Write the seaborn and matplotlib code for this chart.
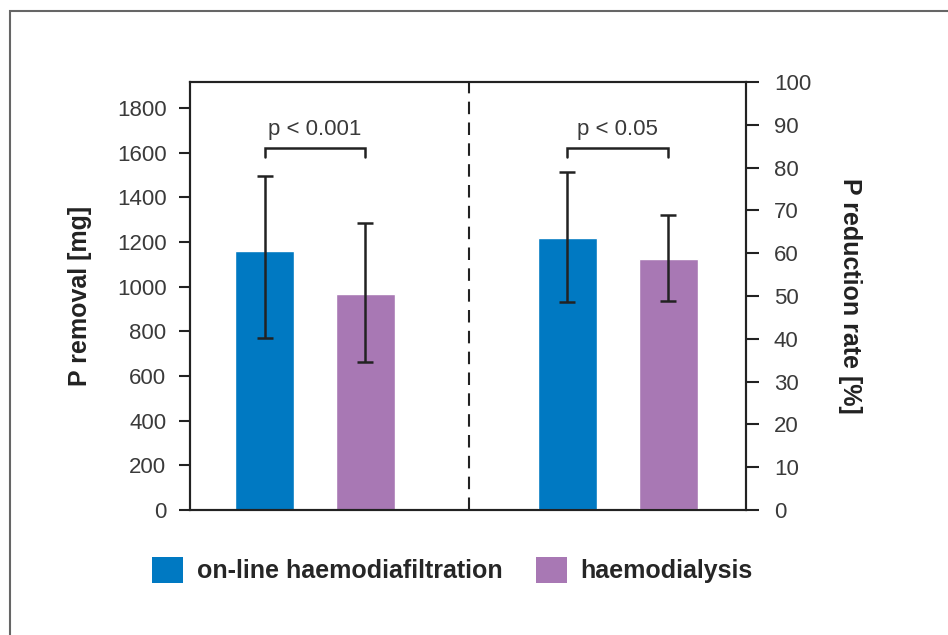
import matplotlib
matplotlib.use("Agg")
import matplotlib.pyplot as plt
import numpy as np
import pandas as pd
import seaborn as sns
from matplotlib.patches import Patch, Rectangle

# values
methods = ["on-line haemodiafiltration", "haemodialysis"]
colors = ["#0079c2", "#a878b4"]

removal_mg = [1161, 967]
removal_err_low = [392, 303]
removal_err_high = [336, 316]

reduction_pct = [63.6, 58.6]
reduction_err_low = [15.1, 9.7]
reduction_err_high = [15.4, 10.3]

groups = ["removal", "reduction"]
p_labels = ["p < 0.001", "p < 0.05"]

sns.set_style("white")
plt.rcParams["font.family"] = ["Liberation Sans", "DejaVu Sans"]

text_color = "#3a3a3a"
line_color = "#222222"

removal_df = pd.DataFrame({"group": "removal", "method": methods, "value": removal_mg})
reduction_df = pd.DataFrame({"group": "reduction", "method": methods, "value": reduction_pct})

fig = plt.figure(figsize=(9.48, 6.35), dpi=100)
ax = fig.add_axes([190 / 948, 1 - 510 / 635, (746 - 190) / 948, (510 - 82) / 635])
ax2 = ax.twinx()

palette = dict(zip(methods, colors))
bar_kw = dict(x="group", y="value", hue="method", order=groups, hue_order=methods,
              palette=palette, width=0.667, gap=0.415, saturation=1, legend=False,
              errorbar=None)
sns.barplot(data=removal_df, ax=ax, **bar_kw)
sns.barplot(data=reduction_df, ax=ax2, **bar_kw)


def bar_centers(axis):
	xs = []
	for container in axis.containers:
		for bar in container:
			if bar.get_height() > 0:
				xs.append(bar.get_x() + bar.get_width() / 2)
	return xs


err_kw = dict(fmt="none", ecolor=line_color, elinewidth=1.8, capsize=5.8, capthick=1.8, zorder=5)
x_left = bar_centers(ax)
x_right = bar_centers(ax2)
ax.errorbar(x_left, removal_mg, yerr=[removal_err_low, removal_err_high], **err_kw)
ax2.errorbar(x_right, reduction_pct, yerr=[reduction_err_low, reduction_err_high], **err_kw)

ax.set_ylim(0, 1916)
ax2.set_ylim(0, 100)
for a in (ax, ax2):
	a.set_xlim(-0.413, 1.424)
	a.set_xlabel("")
	a.set_xticks([])

ax.set_yticks(np.arange(0, 1801, 200))
ax2.set_yticks(np.arange(0, 101, 10))
ax.tick_params(axis="y", left=True, direction="out", length=8, width=1.5, pad=9,
               labelsize=16, labelcolor=text_color, color=line_color)
ax2.tick_params(axis="y", right=True, direction="out", length=9, width=1.5, pad=11,
                labelsize=16, labelcolor=text_color, color=line_color)

for a in (ax, ax2):
	for spine in a.spines.values():
		spine.set_visible(True)
		spine.set_color(line_color)
		spine.set_linewidth(1.5)

ax.set_ylabel("P removal [mg]", fontsize=18, fontweight="bold", color=line_color, labelpad=18)
ax2.set_ylabel("P reduction rate [%]", fontsize=18, fontweight="bold", color=line_color,
               rotation=270, labelpad=37)

# group separator
ax.axvline(0.51, color=line_color, lw=1.5, linestyle=(0, (6, 4)))

# significance brackets
br_top, br_bot = 1620, 1580
for xs, label in zip([x_left, x_right], p_labels):
	ax.plot([xs[0], xs[0], xs[1], xs[1]], [br_bot, br_top, br_top, br_bot],
	        color=line_color, lw=1.8, solid_joinstyle="miter", clip_on=False)
	ax.text((xs[0] + xs[1]) / 2, 1705, label, ha="center", va="center",
	        fontsize=16, color=text_color)

handles = [Patch(facecolor=c, edgecolor="none") for c in colors]
fig.legend(handles, methods, loc="center left", bbox_to_anchor=(152 / 948, 1 - 570 / 635),
           ncol=2, frameon=False, handlelength=1.24, handleheight=1.24,
           handletextpad=0.56, columnspacing=1.32, borderpad=0, borderaxespad=0,
           prop={"weight": "bold", "size": 18})

# outer frame
fig.patches.append(Rectangle((9.5 / 948, -0.1), 1.2, 1.1 - 11 / 635, transform=fig.transFigure,
                             fill=False, edgecolor="#666666", lw=1.5))

fig.savefig("out.png", dpi=100)
